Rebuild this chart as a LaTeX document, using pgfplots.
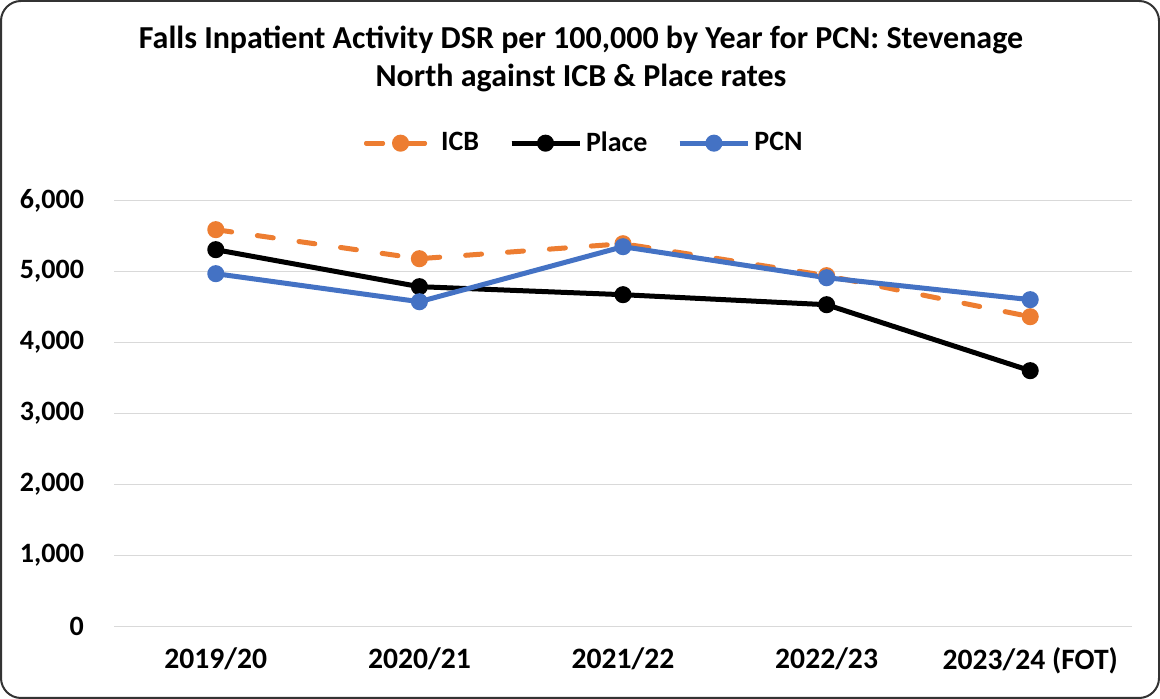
\documentclass[border=0pt]{standalone}
\usepackage{fontspec}
\setmainfont{Carlito}
\usepackage{pgfplots}
\pgfplotsset{compat=1.18}
\definecolor{icbc}{HTML}{ED7D31}
\definecolor{pcnc}{HTML}{4472C4}
\definecolor{gridc}{HTML}{D9D9D9}
\begin{document}
\begin{tikzpicture}
\draw[black!80, line width=1pt, rounded corners=10pt, fill=white] (0.5pt,0.5pt) rectangle (579.5pt,349pt);
\node[font=\bfseries\fontsize{16}{19}\selectfont, align=center] at (290.5pt,320pt)
  {Falls Inpatient Activity DSR per 100,000 by Year for PCN: Stevenage\\North against ICB \& Place rates};
\begin{axis}[
  at={(57pt,36.15pt)}, anchor=south west,
  scale only axis,
  width=509pt, height=213pt,
  xmin=-0.5, xmax=4.5,
  ymin=0, ymax=6000,
  xtick={0,1,2,3,4},
  xticklabels={2019/20,2020/21,2021/22,2022/23,2023/24 (FOT)},
  ytick={0,1000,2000,3000,4000,5000,6000},
  axis line style={draw=none},
  tick style={draw=none},
  ymajorgrids,
  major grid style={gridc, line width=0.8pt},
  /pgf/number format/assume math mode=true,
  /pgf/number format/1000 sep={,},
  scaled y ticks=false,
  yticklabel style={font=\bfseries\fontsize{14}{16}\selectfont, xshift=-11.5pt},
  xticklabel style={font=\bfseries\fontsize{14.8}{16}\selectfont, yshift=-7pt},
  legend columns=3,
  legend style={at={(0.463,1.135)}, anchor=center, draw=none, fill=none,
    font=\bfseries\fontsize{14}{16}\selectfont,
    /tikz/every even column/.append style={column sep=13pt}},
  legend image code/.code={\draw[#1] (0pt,0pt) -- (17pt,0pt) -- (34pt,0pt); \draw[#1, mark repeat=2, mark phase=2] plot coordinates {(0pt,0pt) (17pt,0pt) (34pt,0pt)};},
]
\addplot[icbc, line width=2.5pt, line cap=round, dash pattern=on 8pt off 13pt, mark=*, mark size=3pt, mark options={solid}]
  coordinates {(0,5592) (1,5183) (2,5394) (3,4944) (4,4366)};
\addlegendentry{ICB}
\addplot[black, line width=2.5pt, mark=*, mark size=3pt]
  coordinates {(0,5310) (1,4789) (2,4676) (3,4535) (4,3606)};
\addlegendentry{Place}
\addplot[pcnc, line width=2.5pt, mark=*, mark size=3pt]
  coordinates {(0,4972) (1,4577) (2,5352) (3,4915) (4,4606)};
\addlegendentry{PCN}
\end{axis}
\end{tikzpicture}
\end{document}
